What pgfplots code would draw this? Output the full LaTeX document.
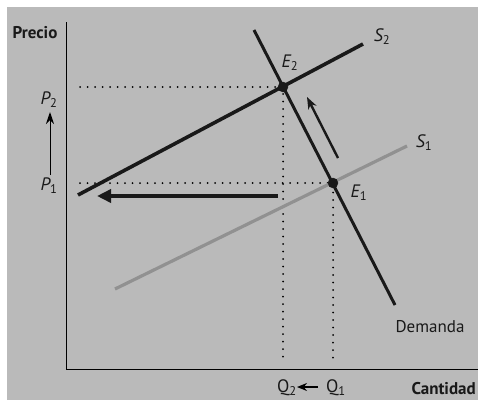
\documentclass[border=0pt]{standalone}
\usepackage{fontspec}
\setmainfont{PT Sans}
\usepackage{pgfplots}
\pgfplotsset{compat=1.18}
\usetikzlibrary{arrows.meta}
\definecolor{bg}{RGB}{186,186,186}
\definecolor{ink}{RGB}{25,25,25}
\definecolor{sone}{RGB}{145,145,145}
\newcommand{\lab}[2]{{\itshape #1}\textsubscript{#2}}
\tikzset{lbl/.style={font=\fontsize{18}{20}\selectfont, text=ink, inner sep=0pt}}
\begin{document}
\begin{tikzpicture}
\fill[white] (-66pt,-31pt) rectangle (412pt,369pt);
\fill[bg] (-59pt,-31pt) rectangle (412pt,362pt);
\begin{axis}[
    scale only axis,
    width=412pt, height=347pt,
    xmin=0, xmax=412, ymin=0, ymax=347,
    axis x line=bottom, axis y line=left,
    axis line style={-, black, line width=0.8pt},
    xtick=\empty, ytick=\empty,
    clip=false,
]
% dotted guides
\addplot[black, line width=2pt, dash pattern=on 0pt off 7.5pt, line cap=round]
    coordinates {(14,282) (217,282) (217,6)};
\addplot[black, line width=2pt, dash pattern=on 0pt off 7.5pt, line cap=round]
    coordinates {(14,186) (267,186) (267,6)};

% curves
\addplot[sone, line width=3.2pt] coordinates {(49,80) (341,223)};       % S1
\addplot[ink, line width=3.6pt] coordinates {(12,174) (297,325)};       % S2
\addplot[ink, line width=3.0pt] coordinates {(188,339) (329,64)};       % Demanda

% equilibria
\addplot[only marks, mark=*, mark size=5pt, ink] coordinates {(217,282) (267,186)};

% arrows
\addplot[ink, line width=3.6pt, -{Triangle[length=14pt,width=13pt]}]
    coordinates {(212,173) (31,173)};
\addplot[ink, line width=2.4pt, -{Stealth[length=12pt,width=9pt]}]
    coordinates {(272,211) (241,272)};
\addplot[black, line width=1pt, -{Stealth[length=12pt,width=8pt]}]
    coordinates {(-16,194) (-16,257)};
\addplot[black, line width=1.6pt, -{Stealth[length=10pt,width=8pt]}]
    coordinates {(252,-18) (231,-18)};

% labels
\node[lbl, font=\bfseries\fontsize{17}{19}\selectfont] at (axis cs:-31,336) {Precio};
\node[lbl, font=\bfseries\fontsize{17}{19}\selectfont, anchor=east] at (axis cs:410,-20) {Cantidad};
\node[lbl, font=\fontsize{17}{19}\selectfont] at (axis cs:364,42) {Demanda};
\node[lbl] at (axis cs:-17,269) {\lab{P}{2}};
\node[lbl] at (axis cs:-17,183) {\lab{P}{1}};
\node[lbl] at (axis cs:221,-19) {Q\textsubscript{2}};
\node[lbl] at (axis cs:270,-19) {Q\textsubscript{1}};
\node[lbl] at (axis cs:316,332) {\lab{S}{2}};
\node[lbl] at (axis cs:358,226) {\lab{S}{1}};
\node[lbl] at (axis cs:224,306) {\lab{E}{2}};
\node[lbl] at (axis cs:293,176) {\lab{E}{1}};
\end{axis}
\pgfresetboundingbox
\path (-66pt,-31pt) rectangle (412pt,369pt);
\end{tikzpicture}
\end{document}
